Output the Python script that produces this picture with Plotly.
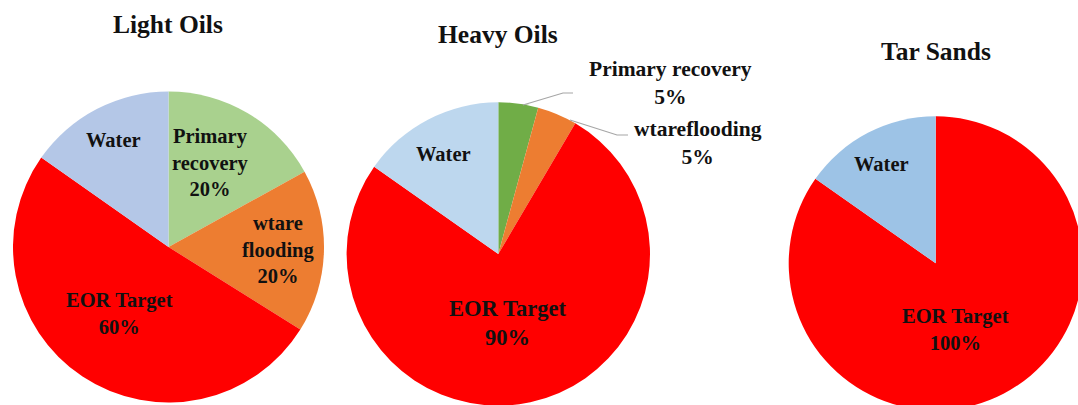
import plotly.graph_objects as go

# ---- data -------------------------------------------------------------
light_names = ["Primary<br>recovery", "wtare<br>flooding", "EOR Target", "Water"]
light_values = [20, 20, 60, 18]
light_colors = ["#A9D18E", "#ED7D31", "#FF0000", "#B4C7E7"]

heavy_names = ["Primary recovery", "wtareflooding", "EOR Target", "Water"]
heavy_values = [5, 5, 90, 18]
heavy_colors = ["#70AD47", "#ED7D31", "#FF0000", "#BDD7EE"]

tar_names = ["EOR Target", "Water"]
tar_values = [100, 18]
tar_colors = ["#FF0000", "#9DC3E6"]

titles = ["Light Oils", "Heavy Oils", "Tar Sands"]

# ---- canvas -----------------------------------------------------------
W, H = 1090, 412
SERIF = "Liberation Serif, Times New Roman, serif"


def fx(x):
    return x / W


def fy(y):
    return 1 - y / H


def pie_domain(cx, cy, r):
    return dict(x=[fx(cx - r), fx(cx + r)], y=[fy(cy + r), fy(cy - r)])


def label_text(name, value):
    return name if name == "Water" else f"{name}<br>{value}%"


fig = go.Figure()

pies = [
    (light_names, light_values, light_colors, (168.5, 247, 155.5)),
    (heavy_names, heavy_values, heavy_colors, (498.3, 254, 151.7)),
    (tar_names, tar_values, tar_colors, (935.7, 263.3, 147)),
]
for names, values, colors, (cx, cy, r) in pies:
    fig.add_trace(go.Pie(
        labels=[n.replace("<br>", " ") for n in names],
        values=values,
        marker=dict(colors=colors, line=dict(width=0)),
        sort=False,
        direction="clockwise",
        rotation=0,
        textinfo="none",
        hoverinfo="label+value",
        domain=pie_domain(cx, cy, r),
        showlegend=False,
    ))

annotations = []


def add_text(text, x, y, size):
    annotations.append(dict(
        text=text, x=fx(x), y=fy(y), xref="paper", yref="paper",
        xanchor="center", yanchor="middle", showarrow=False,
        font=dict(family=SERIF, size=size, color="#111111"),
    ))


# chart titles
for title, (x, y) in zip(titles, [(168, 25), (497.5, 35), (935.5, 52)]):
    add_text(f"<b>{title}</b>", x, y, 25.5)

# slice labels: Light Oils
light_pos = [(210, 162), (278, 250), (119, 313), (113, 140)]
for n, v, (x, y) in zip(light_names, light_values, light_pos):
    add_text(f"<b>{label_text(n, v)}</b>", x, y, 20.5)

# slice labels: Heavy Oils (the two thin slices are labelled outside)
heavy_pos = [(670, 83), (698, 143), (507, 323), (443, 154)]
heavy_size = [21.5, 21.5, 22.5, 20.5]
for n, v, (x, y), s in zip(heavy_names, heavy_values, heavy_pos, heavy_size):
    add_text(f"<b>{label_text(n, v)}</b>", x, y, s)

# slice labels: Tar Sands
tar_pos = [(955, 329), (881.7, 164)]
for n, v, (x, y) in zip(tar_names, tar_values, tar_pos):
    add_text(f"<b>{label_text(n, v)}</b>", x, y, 20.5)

# leader lines for the outside labels
leaders = [
    [(523, 105), (563, 93), (573, 93)],
    [(570, 120), (617, 135), (628, 135)],
]
shapes = []
for pts in leaders:
    path = "M " + " L ".join(f"{fx(x)},{fy(y)}" for x, y in pts)
    shapes.append(dict(type="path", path=path, xref="paper", yref="paper",
                       line=dict(color="#A6A6A6", width=1.2)))

fig.update_layout(
    width=W, height=H,
    margin=dict(l=0, r=0, t=0, b=0),
    paper_bgcolor="white",
    plot_bgcolor="white",
    annotations=annotations,
    shapes=shapes,
)

fig.write_html(
    "out.html",
    post_script="document.body.style.margin='0';document.body.style.overflow='hidden';",
)
